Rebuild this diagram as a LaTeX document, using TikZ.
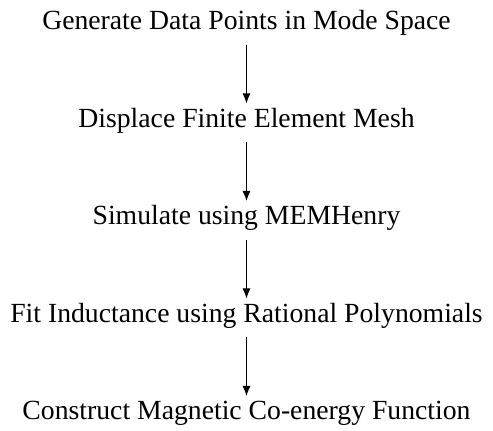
\documentclass[tikz,border=0pt]{standalone}
\usepackage{fontspec}
\setmainfont{Liberation Serif}
\usetikzlibrary{positioning, arrows.meta}

\begin{document}
\begin{tikzpicture}[node distance=48.75pt, on grid,
    stage/.style={inner xsep=0pt, inner ysep=5pt, text height=0.683em, text depth=0.217em,
      font=\fontsize{13.85}{16.6}\selectfont},
    flow/.style={-{Latex[length=5pt, width=4pt]}, line width=0.5pt}]
  \useasboundingbox (0,0) rectangle (246.5pt,-215.5pt);

  \node[stage, anchor=base] (gen) at (123.25pt,-15pt) {Generate Data Points in Mode Space};
  \node[stage] (mesh) [below=of gen] {Displace Finite Element Mesh};
  \node[stage] (sim) [below=of mesh] {Simulate using MEMHenry};
  \node[stage] (fit) [below=of sim] {Fit Inductance using Rational Polynomials};
  \node[stage] (coen) [below=of fit] {Construct Magnetic Co-energy Function};

  \draw[flow] (gen) -- (mesh);
  \draw[flow] (mesh) -- (sim);
  \draw[flow] (sim) -- (fit);
  \draw[flow] (fit) -- (coen);

\end{tikzpicture}
\end{document}
